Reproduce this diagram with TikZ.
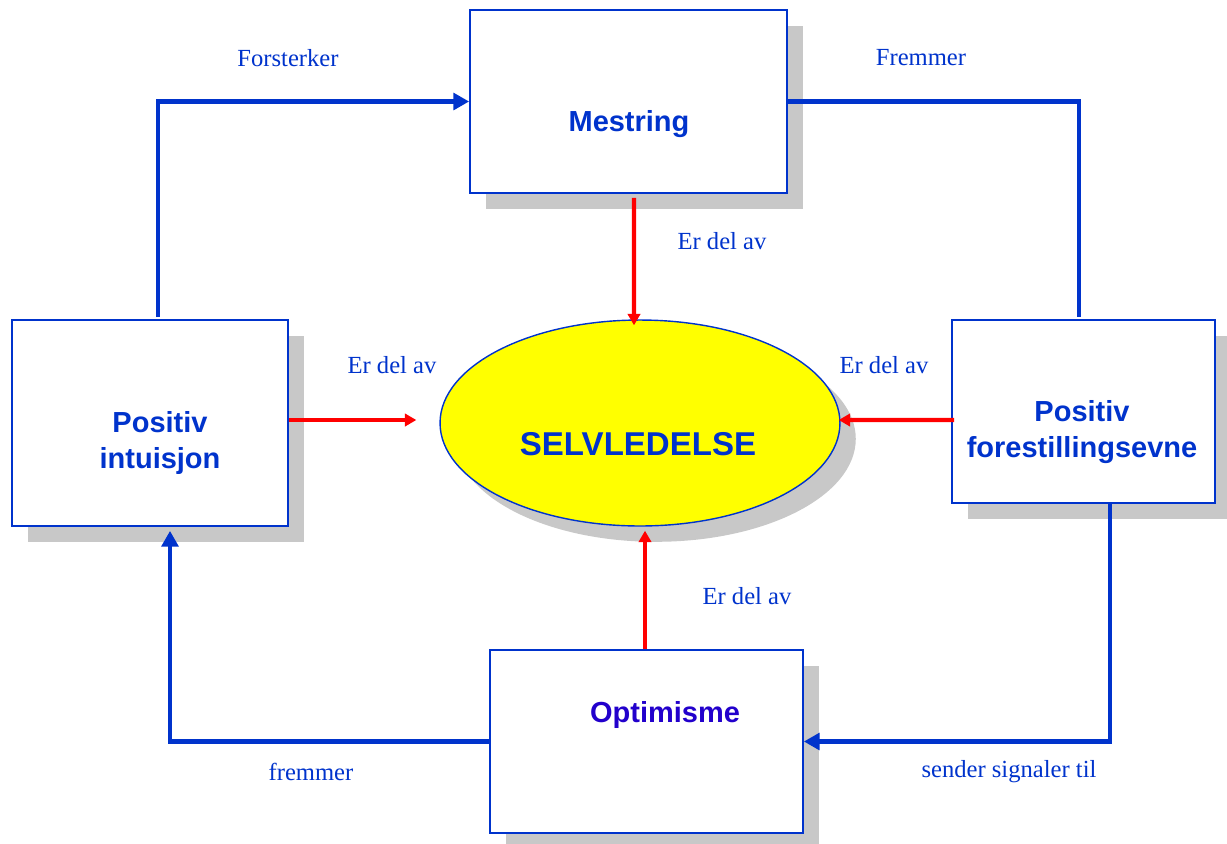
\documentclass[tikz,border=0pt]{standalone}
\usepackage{fontspec}
\setmainfont{Liberation Serif}
\newfontfamily\headfont{Liberation Sans}
\usetikzlibrary{arrows.meta}
\usetikzlibrary{shapes.geometric}
\usetikzlibrary{shadows}
\definecolor{mblue}{RGB}{0, 51, 204}
\definecolor{mviolet}{RGB}{34, 0, 204}
\definecolor{mgray}{RGB}{200, 200, 200}
\definecolor{myellow}{RGB}{255, 255, 0}
\definecolor{mred}{RGB}{255, 0, 0}
\tikzset{box/.style = {draw = mblue, line width = 1pt, fill = white, inner sep = 0,
  drop shadow = {shadow xshift = 9pt, shadow yshift = -9pt, fill = mgray, opacity = 1}}}
\tikzset{head/.style = {text = mblue, inner sep = 0, align = center,
  font = \headfont\bfseries\fontsize{16.5}{20.5}\selectfont}}
\tikzset{lbl/.style = {text = mblue, inner sep = 0, font = \fontsize{14}{17}\selectfont}}
\tikzset{bluelink/.style = {draw = mblue, line width = 2.8pt}}
\tikzset{bluetip/.style = {-{Triangle[length = 9pt, width = 9.5pt]}}}
\tikzset{redlink/.style = {draw = mred, line width = 2.3pt, -{Triangle[length = 6.5pt, width = 7pt]}}}

\begin{document}
\begin{tikzpicture}[x = 0.02cm, y = -0.02cm]
      \useasboundingbox (0, 0) rectangle (1227, 843);
      \node [box, minimum width = 6.34cm, minimum height = 3.66cm] (mestring) at (628.5, 101.5) {};
      \node [box, minimum width = 5.52cm, minimum height = 4.12cm] (intuisjon) at (150, 423) {};
      \node [box, minimum width = 5.26cm, minimum height = 3.66cm] (forestilling) at (1083.5, 411.5) {};
      \node [box, minimum width = 6.26cm, minimum height = 3.66cm] (optimisme) at (646.5, 741.5) {};
      \node [box, ellipse, fill = myellow, line width = 0.8pt, minimum width = 8cm, minimum height = 4.12cm] (sel) at (640, 423) {};
      \node [head] (mestringtxt) at (629, 124) {Mestring};
      \node [head] (intuisjontxt) at (160, 443) {Positiv\\intuisjon};
      \node [head] (forestillingtxt) at (1082, 432) {Positiv\\forestillingsevne};
      \node [head, text = mviolet] (optimismetxt) at (665, 715) {Optimisme};
      \node [head, font = \headfont\bfseries\fontsize{18.8}{22}\selectfont] (seltxt) at (638, 444) {SELVLEDELSE};
      \draw [bluelink, bluetip] ([shift = {(8, -2)}]intuisjon.north) |- (mestring.west);
      \draw [bluelink] (mestring.east) -| ([shift = {(-4.5, -2)}]forestilling.north);
      \draw [bluelink, bluetip] ([shift = {(26.5, 0)}]forestilling.south) |- (optimisme.east);
      \draw [bluelink, bluetip] (optimisme.west) -| ([shift = {(20, 4)}]intuisjon.south);
      \draw [redlink] ([shift = {(5.5, 4)}]mestring.south) -- ([shift = {(-6, 6)}]sel.north);
      \draw [redlink] ([shift = {(0, -3)}]intuisjon.east) -- ([shift = {(-23, -3)}]sel.west);
      \draw [redlink] ([shift = {(3, 8.5)}]forestilling.west) -- ([shift = {(-2, -3)}]sel.east);
      \draw [redlink] ([shift = {(-1.5, 0)}]optimisme.north) -- ([shift = {(5, 4)}]sel.south);
      \node [lbl] (forsterker) at (288, 58) {Forsterker};
      \node [lbl] (fremmer) at (921, 58) {Fremmer};
      \node [lbl] (del1) at (722, 241) {Er del av};
      \node [lbl] (del2) at (392, 365) {Er del av};
      \node [lbl] (del3) at (884, 365) {Er del av};
      \node [lbl] (del4) at (747, 596) {Er del av};
      \node [lbl] (signaler) at (1009, 772) {sender signaler til};
      \node [lbl] (fremmer2) at (311, 772) {fremmer};
    \end{tikzpicture}
\end{document}
